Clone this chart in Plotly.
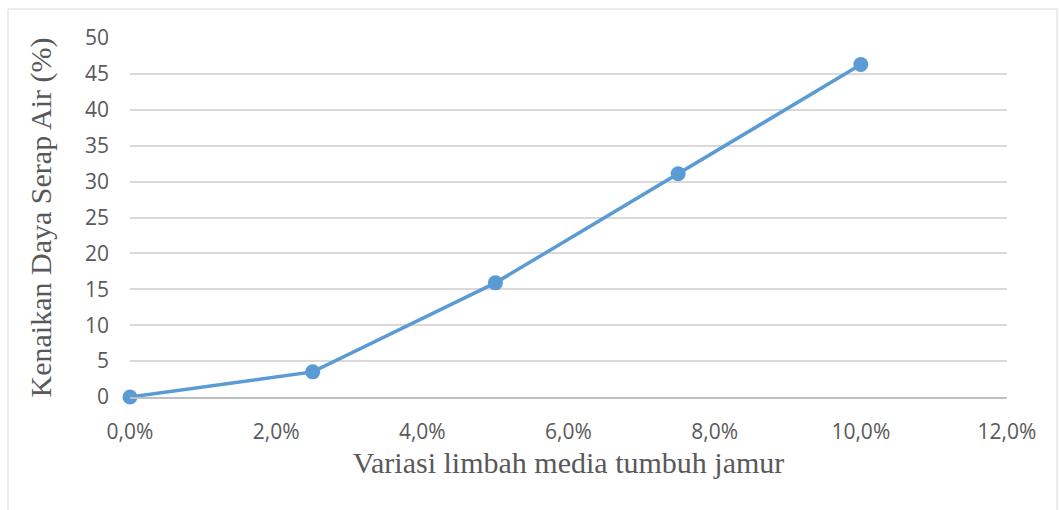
import plotly.graph_objects as go

# Kenaikan daya serap air per variasi limbah media tumbuh jamur
variasi = [0.0, 0.025, 0.05, 0.075, 0.10]
kenaikan = [0.0, 3.5, 15.9, 31.1, 46.3]
y_ticks = [0, 5, 10, 15, 20, 25, 30, 35, 40, 45, 50]
x_ticks = [0.0, 0.02, 0.04, 0.06, 0.08, 0.10, 0.12]

W, H = 1059, 510
L, R, T, B = 130, 52, 38, 113
pw, ph = W - L - R, H - T - B


def px_x(p):
    return (p - L) / pw


def px_y(p):
    return (H - B - p) / ph


fig = go.Figure(go.Scatter(
    x=variasi, y=kenaikan, mode="lines+markers",
    line=dict(color="#5B9BD5", width=3.5),
    marker=dict(color="#5B9BD5", size=15),
    cliponaxis=False,
))

tick_font = dict(family="Open Sans, Liberation Sans, sans-serif", size=21, color="#595959")
title_font = dict(family="Liberation Serif, Times New Roman, serif", size=30, color="#595959")

fig.update_layout(
    width=W, height=H,
    margin=dict(l=L, r=R, t=T, b=B),
    paper_bgcolor="white", plot_bgcolor="white",
    separators=",.",
    showlegend=False,
    xaxis=dict(
        range=[0, 0.12], tickvals=x_ticks, tickformat=".1%",
        showgrid=False, zeroline=False,
        showline=True, linecolor="#BFBFBF", linewidth=1.5,
        ticks="", tickfont=tick_font, ticklabelstandoff=15,
        title=dict(text="Variasi limbah media tumbuh jamur", font=title_font, standoff=8),
    ),
    yaxis=dict(
        range=[0, 50], tickvals=y_ticks,
        showgrid=True, gridcolor="#D9D9D9", gridwidth=1.5, zeroline=False,
        showline=False, ticks="", tickfont=tick_font, ticklabelstandoff=20,
        title=dict(text="Kenaikan Daya Serap Air (%)", font=title_font, standoff=24),
    ),
    shapes=[dict(
        type="rect", xref="paper", yref="paper",
        x0=px_x(8), x1=px_x(1057), y0=px_y(540), y1=px_y(9),
        line=dict(color="#D9D9D9", width=1), fillcolor="rgba(0,0,0,0)", layer="below",
    )],
)

fig.write_html("out.html")
